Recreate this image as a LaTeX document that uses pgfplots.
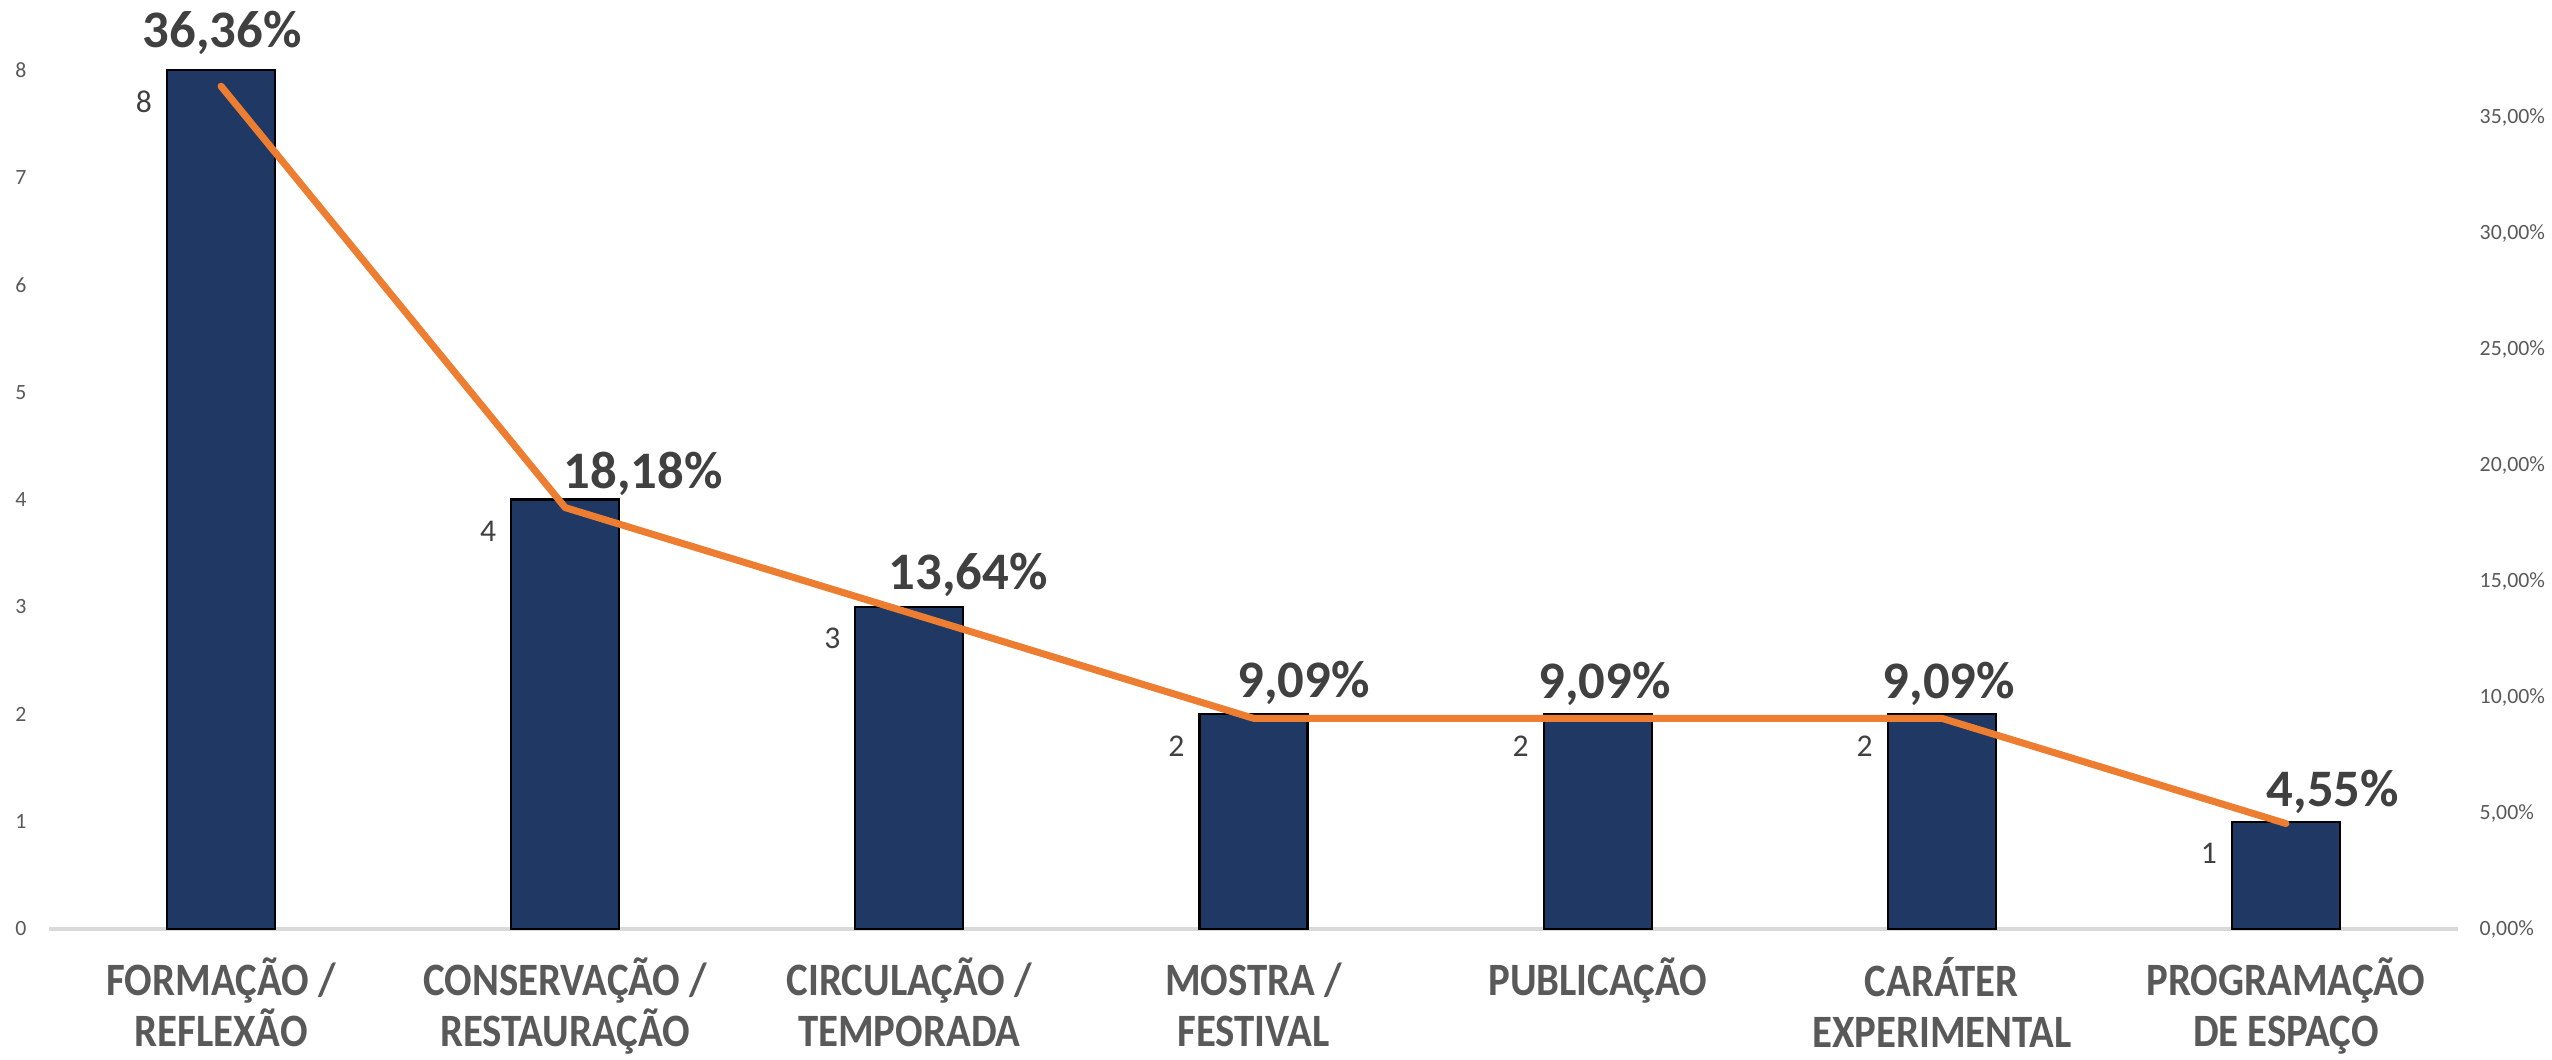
\documentclass[border=0pt]{standalone}
\usepackage{pgfplots}
\pgfplotsset{compat=1.18}
\usepackage{fontspec}
\setmainfont{Carlito}
\newfontfamily\xlabfont[FakeStretch=0.88]{Carlito}

\definecolor{barblue}{HTML}{203864}
\definecolor{lineorange}{HTML}{ED7D31}
\definecolor{labgray}{HTML}{404040}
\definecolor{tickgray}{HTML}{595959}
\definecolor{axisgray}{HTML}{D9D9D9}

\pgfplotsset{
  /pgf/number format/assume math mode=true,
  common/.style={
    scale only axis, width=24.09cm, height=8.59cm,
    xmin=-0.5, xmax=6.5, ymin=0,
    major tick length=0, clip=false,
    y axis line style={draw=none},
  },
}

\begin{document}
\begin{tikzpicture}
% counts (left axis)
\begin{axis}[
  common, ymax=8,
  axis x line*=bottom, axis y line*=left,
  x axis line style={draw=axisgray, line width=0.9pt},
  xtick={0,...,6},
  xticklabels={
    {\vphantom{ÃÇ}FORMAÇÃO /\\REFLEXÃO},
    {\vphantom{ÃÇ}CONSERVAÇÃO /\\RESTAURAÇÃO},
    {\vphantom{ÃÇ}CIRCULAÇÃO /\\TEMPORADA},
    {\vphantom{ÃÇ}MOSTRA /\\FESTIVAL},
    {\vphantom{ÃÇ}PUBLICAÇÃO},
    {\vphantom{ÃÇ}CARÁTER\\EXPERIMENTAL},
    {\vphantom{ÃÇ}PROGRAMAÇÃO\\DE ESPAÇO}},
  xticklabel style={font=\xlabfont\bfseries\fontsize{13.2}{14.6}\selectfont, text=tickgray,
    align=center, anchor=north, inner sep=0, yshift=-0.28cm},
  ytick={0,...,8},
  yticklabel style={font=\fontsize{6.2}{7}\selectfont, text=tickgray,
    anchor=east, inner sep=0, xshift=-0.22cm},
  ybar, bar width=1.08cm,
  nodes near coords,
  every node near coord/.append style={font=\fontsize{9}{10}\selectfont, text=labgray,
    anchor=base east, inner sep=0, xshift=-0.68cm, yshift=-0.42cm},
]
\addplot[fill=barblue, draw=black, line width=0.6pt]
  coordinates {(0,8) (1,4) (2,3) (3,2) (4,2) (5,2) (6,1)};
\end{axis}
% percentages (right axis)
\begin{axis}[
  common, ymax=37.06,
  axis x line=none, axis y line*=right,
  ytick={0,5,...,35},
  yticklabel={\pgfmathprintnumber[fixed,fixed zerofill,precision=2,use comma]{\tick}\%},
  yticklabel style={font=\fontsize{6.2}{7}\selectfont, text=tickgray,
    anchor=west, inner sep=0, xshift=0.21cm},
]
\addplot[lineorange, line width=2pt, line cap=round, line join=round,
  point meta=y,
  visualization depends on={\thisrow{dx} \as \labdx},
  visualization depends on={\thisrow{dy} \as \labdy},
  nodes near coords={\pgfmathprintnumber[fixed,fixed zerofill,precision=2,use comma]{\pgfplotspointmeta}\%},
  every node near coord/.append style={font=\bfseries\fontsize{15}{18}\selectfont,
    text=labgray, anchor=base, inner sep=0, xshift=\labdx cm, yshift=\labdy cm},
] table {
x y dx dy
0 36.36 0.01 0.39
1 18.18 0.78 0.19
2 13.64 0.59 0.23
3 9.09 0.50 0.21
4 9.09 0.07 0.20
5 9.09 0.07 0.20
6 4.55 0.47 0.17
};
\end{axis}
\pgfresetboundingbox
\path ([xshift=-0.49cm,yshift=-1.30cm]current axis.south west)
  rectangle ([xshift=0.94cm,yshift=0.70cm]current axis.north east);
\end{tikzpicture}
\end{document}
